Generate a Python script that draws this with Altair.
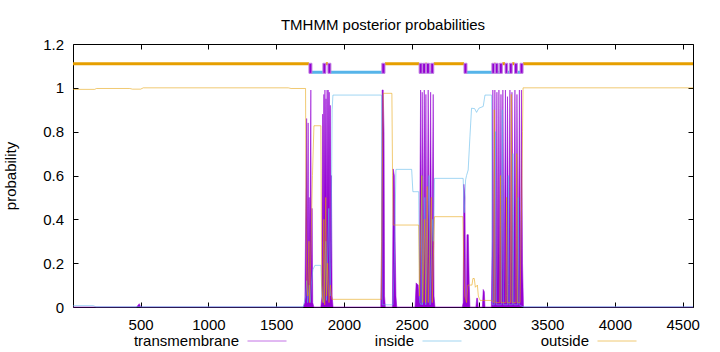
import altair as alt
import pandas as pd

FONT = "Liberation Sans"
SEQ_LEN = 4576

x_ticks = [500, 1000, 1500, 2000, 2500, 3000, 3500, 4000, 4500]
y_ticks = [0, 0.2, 0.4, 0.6, 0.8, 1.0, 1.2]
series_names = ["transmembrane", "inside", "outside"]

tm_points = [
    (1, 0.0), (470, 0.0), (490, 0.015), (500, 0.0), (1700, 0.0),
    (1712, 0.02), (1725, 0.86), (1729, 0.15), (1736, 0.84), (1740, 0.1), (1744, 0.5),
    (1749, 0.2), (1756, 0.99), (1760, 0.1), (1765, 0.45), (1770, 0.02), (1778, 0.0),
    (1830, 0.0), (1838, 0.05), (1843, 0.88), (1847, 0.3), (1852, 0.97), (1856, 0.4),
    (1860, 0.99), (1864, 0.5), (1868, 0.95), (1872, 0.3), (1876, 0.99), (1880, 0.4),
    (1884, 0.99), (1888, 0.45), (1892, 0.98), (1896, 0.3), (1900, 0.92), (1904, 0.2),
    (1908, 0.6), (1913, 0.05), (1920, 0.0),
    (2272, 0.0), (2278, 0.3), (2282, 0.99), (2290, 0.99), (2296, 0.8), (2300, 0.05),
    (2306, 0.0), (2358, 0.0), (2364, 0.63), (2372, 0.6), (2378, 0.3), (2384, 0.05),
    (2390, 0.0),
    (2525, 0.0), (2533, 0.11), (2548, 0.1), (2556, 0.02), (2566, 0.99), (2572, 0.2),
    (2578, 0.98), (2585, 0.15), (2593, 0.99), (2599, 0.2), (2605, 0.97), (2612, 0.1),
    (2622, 0.99), (2630, 0.2), (2640, 0.98), (2648, 0.1), (2659, 0.97), (2665, 0.05),
    (2672, 0.0),
    (2874, 0.0), (2880, 0.02), (2885, 0.56), (2893, 0.5), (2898, 0.05), (2904, 0.02),
    (2908, 0.33), (2918, 0.33), (2925, 0.1), (2930, 0.0), (2974, 0.0), (2980, 0.04),
    (2986, 0.04), (2991, 0.0), (3022, 0.0), (3028, 0.08), (3036, 0.07), (3041, 0.0),
    (3088, 0.0), (3094, 0.3), (3099, 0.99), (3106, 0.1), (3114, 0.99), (3121, 0.05),
    (3129, 0.98), (3136, 0.1), (3144, 0.99), (3151, 0.15), (3159, 0.97), (3166, 0.05),
    (3173, 0.99), (3182, 0.1), (3192, 0.99), (3200, 0.05), (3207, 0.96), (3216, 0.1),
    (3225, 0.99), (3232, 0.05), (3240, 0.98), (3251, 0.1), (3262, 0.99), (3270, 0.05),
    (3277, 0.97), (3286, 0.1), (3295, 0.99), (3303, 0.05), (3310, 0.99), (3318, 0.2),
    (3325, 0.0), (4576, 0.0),
]

inside_points = [
    (1, 0.006), (150, 0.006), (170, 0.001), (1700, 0.001), (1718, 0.05), (1725, 0.12),
    (1732, 0.02), (1745, 0.1), (1752, 0.02), (1762, 0.12), (1771, 0.17), (1786, 0.19),
    (1830, 0.19), (1838, 0.05), (1850, 0.02), (1866, 0.3), (1872, 0.03), (1888, 0.45),
    (1898, 0.05), (1906, 0.3), (1913, 0.9), (1919, 0.967), (2278, 0.967), (2283, 0.01),
    (2362, 0.01), (2372, 0.2), (2384, 0.628), (2500, 0.628), (2509, 0.526), (2552, 0.526),
    (2560, 0.02), (2570, 0.01), (2574, 0.6), (2580, 0.01), (2597, 0.5), (2604, 0.01),
    (2628, 0.6), (2636, 0.01), (2652, 0.4), (2660, 0.3), (2668, 0.587), (2880, 0.587),
    (2888, 0.43), (2898, 0.58), (2905, 0.6), (2917, 0.625), (2930, 0.777), (2942, 0.907),
    (2965, 0.905), (2979, 0.888), (2996, 0.907), (3028, 0.915), (3041, 0.967),
    (3090, 0.967), (3096, 0.01), (3110, 0.01), (3118, 0.8), (3125, 0.01), (3162, 0.01),
    (3169, 0.9), (3177, 0.01), (3208, 0.01), (3213, 0.6), (3219, 0.01), (3243, 0.01),
    (3247, 0.7), (3254, 0.01), (3282, 0.01), (3287, 0.5), (3293, 0.01), (3322, 0.001),
    (4576, 0.001),
]

outside_points = [
    (1, 0.993), (160, 0.993), (175, 0.997), (420, 0.997), (440, 0.994), (500, 0.994),
    (520, 1.0), (1590, 1.0), (1610, 0.997), (1717, 0.997), (1721, 0.4), (1726, 0.1),
    (1733, 0.05), (1742, 0.3), (1747, 0.02), (1758, 0.3), (1768, 0.6), (1779, 0.827),
    (1830, 0.827), (1836, 0.1), (1845, 0.02), (1852, 0.4), (1858, 0.01), (1866, 0.5),
    (1872, 0.05), (1880, 0.2), (1890, 0.02), (1900, 0.1), (1911, 0.035), (2276, 0.035),
    (2282, 0.5), (2290, 0.975), (2354, 0.975), (2359, 0.6), (2364, 0.374), (2552, 0.374),
    (2558, 0.05), (2575, 0.6), (2582, 0.02), (2596, 0.4), (2602, 0.02), (2615, 0.55),
    (2622, 0.02), (2645, 0.5), (2652, 0.02), (2668, 0.412), (2878, 0.412), (2884, 0.2),
    (2892, 0.05), (2905, 0.02), (2915, 0.1), (2930, 0.1), (2945, 0.1), (2952, 0.13),
    (2962, 0.13), (2970, 0.09), (2985, 0.1), (2992, 0.05), (3005, 0.03), (3090, 0.03),
    (3105, 0.02), (3110, 0.9), (3116, 0.02), (3150, 0.02), (3155, 0.6), (3160, 0.02),
    (3195, 0.02), (3200, 0.5), (3206, 0.02), (3230, 0.02), (3235, 0.97), (3242, 0.02),
    (3270, 0.02), (3275, 0.7), (3282, 0.02), (3300, 0.02), (3312, 0.5), (3318, 0.8),
    (3322, 1.0), (4576, 1.0),
]

# predicted topology: (kind, start, end)
topology = [
    ("outside", 1, 1742), ("TM", 1742, 1764), ("inside", 1764, 1845), ("TM", 1845, 1867),
    ("outside", 1867, 1882), ("TM", 1882, 1904), ("inside", 1904, 2280), ("TM", 2280, 2303),
    ("outside", 2303, 2555), ("TM", 2555, 2577), ("inside", 2577, 2581), ("TM", 2581, 2603),
    ("outside", 2603, 2609), ("TM", 2609, 2631), ("inside", 2631, 2641), ("TM", 2641, 2663),
    ("outside", 2663, 2886), ("TM", 2886, 2908), ("inside", 2908, 3092), ("TM", 3092, 3112),
    ("outside", 3112, 3117), ("TM", 3117, 3138), ("inside", 3138, 3148), ("TM", 3148, 3169),
    ("outside", 3169, 3189), ("TM", 3189, 3209), ("inside", 3209, 3222), ("TM", 3222, 3242),
    ("outside", 3242, 3259), ("TM", 3259, 3280), ("inside", 3280, 3300), ("TM", 3300, 3322),
    ("outside", 3322, 4576),
]

rows = []
for name, pts in zip(series_names, [tm_points, inside_points, outside_points]):
    for p, v in pts:
        rows.append({"pos": p, "prob": v, "series": name})
df = pd.DataFrame(rows)
tm_df = df[df["series"] == "transmembrane"]
topo_df = pd.DataFrame(topology, columns=["kind", "start", "end"])

PURPLE, BLUE, ORANGE = "#9400d3", "#56b4e9", "#e69f00"

x_scale = alt.Scale(domain=[1, SEQ_LEN], nice=False, zero=False)
y_scale = alt.Scale(domain=[0, 1.2], nice=False, zero=False)

axis_bottom = alt.Axis(orient="bottom", values=x_ticks, format="d", offset=-5, tickSize=5,
                       domain=False, grid=False, labelPadding=10, labelFont=FONT,
                       labelFontSize=15, labelColor="#000", tickColor="#000", title=None,
                       labelFlush=False, labelOverlap=False)
axis_top = alt.Axis(orient="top", values=x_ticks, labels=False, offset=-5, tickSize=5,
                    domain=False, grid=False, tickColor="#000", title=None)
axis_left = alt.Axis(orient="left", values=y_ticks, format="~g", offset=-5, tickSize=5,
                     domain=False, grid=False, labelPadding=9.5, labelFont=FONT,
                     labelFontSize=15, labelColor="#000", tickColor="#000",
                     title="probability", titleFont=FONT, titleFontSize=15,
                     titleFontWeight="normal", titleColor="#000", titlePadding=24,
                     labelFlush=False, labelOverlap=False)
axis_right = alt.Axis(orient="right", values=y_ticks, labels=False, offset=-5, tickSize=5,
                      domain=False, grid=False, tickColor="#000", title=None)

tm_area = alt.Chart(tm_df).mark_area(color=PURPLE, opacity=1.0, interpolate="linear").encode(
    x=alt.X("pos:Q", scale=x_scale, axis=axis_bottom),
    y=alt.Y("prob:Q", scale=y_scale, axis=axis_left),
)

lines = alt.Chart(df).mark_line(strokeWidth=1, opacity=0.55).encode(
    x=alt.X("pos:Q", axis=axis_top),
    y=alt.Y("prob:Q", axis=axis_right),
    color=alt.Color("series:N",
                    scale=alt.Scale(domain=series_names, range=[PURPLE, BLUE, ORANGE]),
                    sort=series_names,
                    legend=alt.Legend(orient="none", legendX=174, legendY=277,
                                      direction="horizontal", symbolType="stroke",
                                      symbolSize=1521, symbolStrokeWidth=1,
                                      symbolOpacity=0.55, labelAlign="right",
                                      labelOffset={"expr": "-48"}, labelFont=FONT,
                                      labelFontSize=15, labelColor="#000", title=None,
                                      labelLimit=300, gridAlign="all", columnPadding=76)),
)

outside_bar = alt.Chart(topo_df).transform_filter(alt.datum.kind == "outside").mark_rule(
    color=ORANGE, strokeWidth=3, strokeCap="butt").encode(
    x=alt.X("start:Q", axis=None), x2="end:Q", y=alt.YDatum(1.11, axis=None))

inside_bar = alt.Chart(topo_df).transform_filter(alt.datum.kind == "inside").mark_rule(
    color=BLUE, strokeWidth=3, strokeCap="butt").encode(
    x=alt.X("start:Q", axis=None), x2="end:Q", y=alt.YDatum(1.071, axis=None))

tm_boxes = alt.Chart(topo_df).transform_filter(alt.datum.kind == "TM").mark_rect(
    color=PURPLE, stroke="#c080e0", strokeWidth=1).encode(
    x=alt.X("start:Q", axis=None), x2="end:Q",
    y=alt.YDatum(1.066, axis=None), y2=alt.Y2Datum(1.112))

chart = alt.layer(tm_area, lines, outside_bar, inside_bar, tm_boxes).resolve_axis(
    x="independent", y="independent"
).properties(
    width=620, height=263,
    title=alt.TitleParams("TMHMM posterior probabilities", font=FONT, fontSize=15,
                          fontWeight="normal", color="#000", anchor="middle",
                          frame="group", baseline="alphabetic", offset=16, dy=24),
    autosize=alt.AutoSizeParams(type="none"),
    padding={"left": 73, "top": 44, "right": 27, "bottom": 45},
).configure_view(stroke="#000", strokeWidth=1)

chart.save("out.html", embed_options={"renderer": "svg", "actions": False})
